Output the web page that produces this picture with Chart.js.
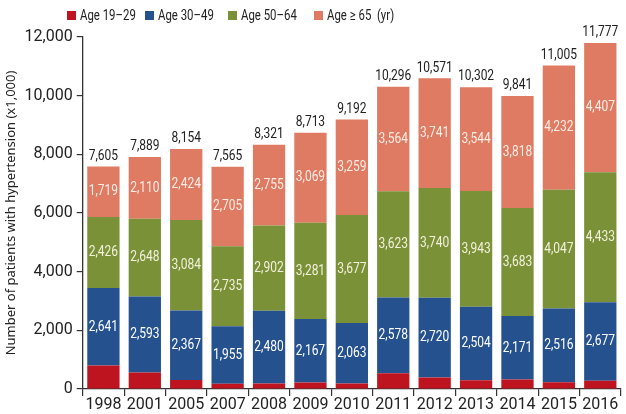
<!DOCTYPE html>
<html lang="en">
<head>
  <meta charset="UTF-8" />
  <title>Hypertension by age group</title>
  <script src="https://cdn.jsdelivr.net/npm/chart.js"></script>
  <style>
    html, body { margin: 0; padding: 0; background: #fff; }
    #wrap { position: relative; width: 626px; height: 414px; }
    #legend { position: absolute; left: 0; top: 0; width: 626px; height: 30px; }
    .item { position: absolute; top: 5px; height: 20px; display: flex; align-items: center;
            font: 15px Roboto, sans-serif; color: #222; white-space: pre; }
    .item span.box { display: inline-block; width: 9px; height: 9px; margin-right: 4px; }
    .item span.txt { display: inline-block; transform: scaleX(0.76); transform-origin: left center; }
  </style>
</head>
<body>
  <div id="wrap">
    <div id="legend"></div>
    <canvas id="chart" width="626" height="414"></canvas>
  </div>

  <script>
    const years = ['1998', '2001', '2005', '2007', '2008', '2009', '2010', '2011', '2012', '2013', '2014', '2015', '2016'];
    const age19to29 = [800, 560, 310, 180, 190, 220, 190, 540, 390, 300, 320, 230, 280];
    const age30to49 = [2641, 2593, 2367, 1955, 2480, 2167, 2063, 2578, 2720, 2504, 2171, 2516, 2677];
    const age50to64 = [2426, 2648, 3084, 2735, 2902, 3281, 3677, 3623, 3740, 3943, 3683, 4047, 4433];
    const age65plus = [1719, 2110, 2424, 2705, 2755, 3069, 3259, 3564, 3741, 3544, 3818, 4232, 4407];
    const totals = [7605, 7889, 8154, 7565, 8321, 8713, 9192, 10296, 10571, 10302, 9841, 11005, 11777];
    const seriesNames = ['Age 19\u201329', 'Age 30\u201349', 'Age 50\u201364', 'Age \u2265 65  (yr)'];

    const colors = ['#be1420', '#25528f', '#7a9137', '#df7b62'];
    const labelColors = [null, '#ffffff', '#f3f1dc', '#fbece4'];
    const legendLeft = [67, 145, 228, 314];

    // html legend
    const legend = document.getElementById('legend');
    seriesNames.forEach((name, i) => {
      const el = document.createElement('div');
      el.className = 'item';
      el.style.left = legendLeft[i] + 'px';
      el.innerHTML = '<span class="box" style="background:' + colors[i] + '"></span><span class="txt">' + name + '</span>';
      legend.appendChild(el);
    });

    const fmt = v => v.toLocaleString('en-US');

    // squeezed text, to look like the condensed face of the original
    function narrowText(ctx, text, x, y) {
      ctx.save();
      ctx.translate(x, y);
      ctx.scale(0.8, 1);
      ctx.fillText(text, 0, 0);
      ctx.restore();
    }

    // segment values inside bars + totals on top
    const barText = {
      id: 'barText',
      afterDatasetsDraw(chart) {
        const ctx = chart.ctx;
        ctx.save();
        ctx.textAlign = 'center';
        ctx.textBaseline = 'middle';
        ctx.font = '15px Roboto, sans-serif';
        chart.data.datasets.forEach((ds, di) => {
          if (di === 0) return;
          const meta = chart.getDatasetMeta(di);
          meta.data.forEach((bar, i) => {
            ctx.fillStyle = labelColors[di];
            narrowText(ctx, fmt(ds.data[i]), bar.x, (bar.y + bar.base) / 2);
          });
        });
        const top = chart.getDatasetMeta(chart.data.datasets.length - 1);
        ctx.fillStyle = '#222';
        ctx.textBaseline = 'bottom';
        top.data.forEach((bar, i) => {
          narrowText(ctx, fmt(totals[i]), bar.x, bar.y - 3);
        });
        ctx.restore();
      }
    };

    new Chart(document.getElementById('chart'), {
      type: 'bar',
      data: {
        labels: years,
        datasets: [age19to29, age30to49, age50to64, age65plus].map((d, i) => ({
          label: seriesNames[i],
          data: d,
          backgroundColor: colors[i],
          borderWidth: 0,
          categoryPercentage: 1,
          barPercentage: 0.78
        }))
      },
      options: {
        responsive: false,
        animation: false,
        layout: { padding: { top: 37, right: 5, left: 3, bottom: 0 } },
        plugins: {
          legend: { display: false },
          tooltip: { enabled: false }
        },
        scales: {
          x: {
            stacked: true,
            grid: { display: true, drawOnChartArea: false, offset: true, tickLength: 7, color: '#333', lineWidth: 1.2 },
            border: { display: true, color: '#333', width: 1.3 },
            ticks: { color: '#222', padding: 1, maxRotation: 0, autoSkip: false,
                     font: { family: 'Roboto', size: 16, lineHeight: 1 } }
          },
          y: {
            stacked: true,
            min: 0,
            max: 12000,
            grid: { display: true, drawOnChartArea: false, tickLength: 6, color: '#333', lineWidth: 1.2 },
            border: { display: true, color: '#333', width: 1.3 },
            ticks: { stepSize: 2000, color: '#222', padding: 4, font: { family: 'Roboto', size: 16 },
                     callback: v => fmt(v) },
            title: { display: true, text: 'Number of patients with hypertension (x1,000)', color: '#222',
                     padding: { top: 0, bottom: 2 }, font: { family: "'Noto Sans', sans-serif", size: 13 } }
          }
        }
      },
      plugins: [barText]
    });
  </script>
</body>
</html>
